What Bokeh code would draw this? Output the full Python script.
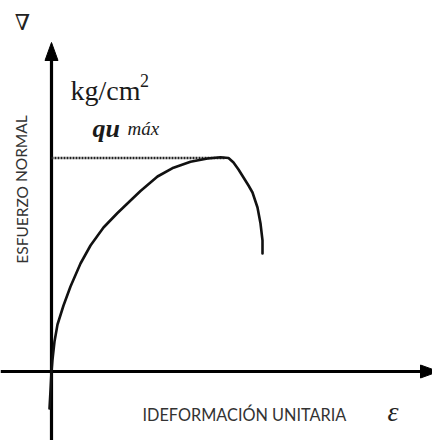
from bokeh.plotting import figure
from bokeh.models import Range1d, Label
from bokeh.embed import file_html
from bokeh.resources import INLINE

# Stress-strain curve of an unconfined compression test (schematic)
strain = [-0.2, -0.1, 0.0, 0.1, 0.3, 0.6, 1.2, 1.9, 2.9, 3.9, 5.2, 6.6, 7.8,
          8.9, 10.6, 12.2, 13.9, 15.6, 16.9, 17.7, 18.2, 18.7, 19.2, 19.7,
          20.1, 20.6, 20.9, 21.1, 21.1]
stress = [-3.7, -1.9, 0.0, 1.2, 3.0, 4.7, 6.6, 8.5, 10.8, 12.6, 14.4, 15.85,
          17.0, 18.05, 19.5, 20.38, 20.98, 21.3, 21.42, 21.35, 20.9, 20.2,
          19.4, 18.6, 17.9, 16.4, 14.8, 13.1, 11.8]

qu_max = 21.35       # peak stress (dotted reference line)
strain_at_qu = 17.3

x_min, x_max = -5.1, 38.1
y_min, y_max = -6.9, 37.1

p = figure(width=432, height=440, output_backend="svg", toolbar_location=None,
           x_range=Range1d(x_min, x_max), y_range=Range1d(y_min, y_max),
           x_axis_location=None, y_axis_location=None, min_border=0)
p.grid.visible = False
p.outline_line_color = None
p.background_fill_color = "white"
p.border_fill_color = "white"

# hand-drawn style axes with arrowheads
y_tip = 32.9
x_tip = 38.7
head_len = 1.8
head_half = 0.65
p.line([0, 0], [y_min, y_tip - head_len], line_color="black", line_width=3.2)
p.patch([0, -head_half, head_half], [y_tip, y_tip - head_len, y_tip - head_len],
        fill_color="black", line_color="black")
p.line([x_min, x_tip - head_len], [0, 0], line_color="black", line_width=3.2)
p.patch([x_tip, x_tip - head_len, x_tip - head_len], [0, head_half, -head_half],
        fill_color="black", line_color="black")

# dotted line at the peak stress
p.line([0, strain_at_qu], [qu_max, qu_max], line_color="#222222", line_width=2.4,
       line_dash="2 1")

# the curve
p.line(strain, stress, line_color="#111111", line_width=2.6, line_join="round",
       line_cap="round")

serif = "Liberation Serif"
p.add_layout(Label(x=-2.9, y=34.9, text="∇", text_font="DejaVu Serif",
                   text_font_size="22px", text_align="center",
                   text_baseline="middle", text_color="#222222"))
p.add_layout(Label(x=1.9, y=28.1, text="kg/cm", text_font=serif,
                   text_font_size="28px", text_baseline="alphabetic",
                   text_color="#1a1a1a"))
p.add_layout(Label(x=8.85, y=29.1, text="2", text_font=serif,
                   text_font_size="18px", text_baseline="alphabetic",
                   text_color="#1a1a1a"))
p.add_layout(Label(x=4.1, y=24.3, text="qu", text_font=serif,
                   text_font_size="26px", text_font_style="bold italic",
                   text_baseline="alphabetic", text_color="#1a1a1a"))
p.add_layout(Label(x=7.6, y=24.3, text="máx", text_font=serif,
                   text_font_size="19px", text_font_style="italic",
                   text_baseline="alphabetic", text_color="#1a1a1a"))
p.add_layout(Label(x=-3.0, y=18.2, text="ESFUERZO NORMAL", text_font="Lato",
                   text_font_size="15.5px", angle=1.5708, text_align="center",
                   text_baseline="middle", text_color="#333333"))
p.add_layout(Label(x=9.1, y=-4.3, text="IDEFORMACIÓN UNITARIA", text_font="Lato",
                   text_font_size="16.3px", text_baseline="alphabetic",
                   text_color="#333333"))
p.add_layout(Label(x=33.6, y=-4.0, text="ε", text_font=serif,
                   text_font_size="28px", text_font_style="italic",
                   text_baseline="alphabetic", text_color="#222222"))

open("out.html", "w").write(file_html(p, INLINE))
